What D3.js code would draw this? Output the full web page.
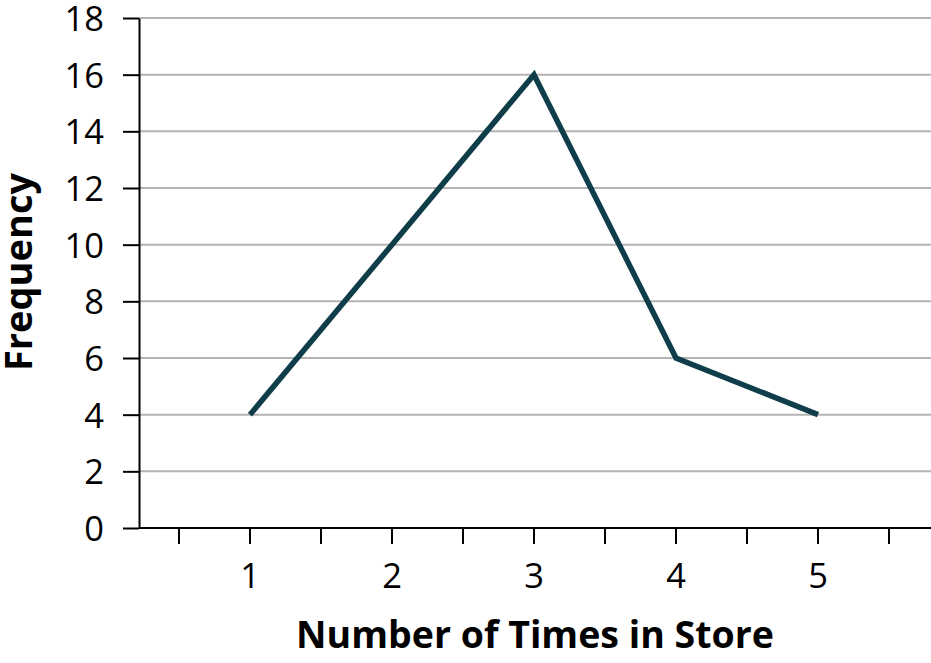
<!DOCTYPE html>
<html>
<head>
<meta charset="utf-8">
<script src="https://cdn.jsdelivr.net/npm/d3@7"></script>
<style>
  body { margin: 0; background: #fff; }
  svg text { font-family: "Open Sans", "Noto Sans", sans-serif; fill: #000; }
</style>
</head>
<body>
<div id="canvas"></div>
<script>
"use strict"

/* values */
let timesInStore = [1, 2, 3, 4, 5];
let frequency = [4, 10, 16, 6, 4];
let yTicks = [0, 2, 4, 6, 8, 10, 12, 14, 16, 18];
let xLabelTicks = [1, 2, 3, 4, 5];
let xMarkTicks = [0.5, 1, 1.5, 2, 2.5, 3, 3.5, 4, 4.5, 5, 5.5];

let drawing = d3.select("#canvas")
    .append("svg")
    .attr("width", 931)
    .attr("height", 663);

/* axis x sits at 139, plot runs to the right edge */
let x = d3.scaleLinear().domain([1, 5]).range([250, 818]);
let y = d3.scaleLinear().domain([0, 18]).range([528, 18]);

let left = 139, right = 931;

// grid lines
drawing.append("g")
    .selectAll("line")
    .data(yTicks.filter(d => d > 0))
    .join("line")
    .attr("x1", left)
    .attr("x2", right)
    .attr("y1", d => y(d))
    .attr("y2", d => y(d))
    .attr("stroke", "#b3b3b3")
    .attr("stroke-width", 2);

// y axis
let yAxis = drawing.append("g")
    .attr("transform", `translate(${left},0)`)
    .call(d3.axisLeft(y).tickValues(yTicks).tickSize(16).tickPadding(19).tickSizeOuter(0));
yAxis.select(".domain").attr("stroke", "#000").attr("stroke-width", 2);
yAxis.selectAll(".tick line").attr("stroke", "#000").attr("stroke-width", 2);
yAxis.selectAll(".tick text")
    .attr("font-size", 34.5)
    .attr("dy", "0.36em");

// x axis line + ticks
let xAxis = drawing.append("g")
    .attr("transform", `translate(0,${y(0)})`);
xAxis.append("line")
    .attr("x1", left)
    .attr("x2", right)
    .attr("stroke", "#000")
    .attr("stroke-width", 2);
xAxis.selectAll("line.tk")
    .data(xMarkTicks)
    .join("line")
    .attr("class", "tk")
    .attr("x1", d => x(d))
    .attr("x2", d => x(d))
    .attr("y1", 0)
    .attr("y2", 16)
    .attr("stroke", "#000")
    .attr("stroke-width", 2);
xAxis.selectAll("text")
    .data(xLabelTicks)
    .join("text")
    .attr("x", d => x(d))
    .attr("y", 60)
    .attr("text-anchor", "middle")
    .attr("font-size", 34.5)
    .text(d => d);

// the line itself
let line = d3.line()
    .x((d, i) => x(timesInStore[i]))
    .y(d => y(d));

drawing.append("path")
    .datum(frequency)
    .attr("d", line)
    .attr("fill", "none")
    .attr("stroke", "#0f3e4a")
    .attr("stroke-width", 5.5)
    .attr("stroke-linejoin", "miter");

// axis titles
drawing.append("text")
    .attr("x", 535)
    .attr("y", 648)
    .attr("text-anchor", "middle")
    .attr("font-size", 37.5)
    .attr("font-weight", "bold")
    .text("Number of Times in Store");

drawing.append("text")
    .attr("transform", "translate(32,272) rotate(-90)")
    .attr("text-anchor", "middle")
    .attr("font-size", 38)
    .attr("font-weight", "bold")
    .text("Frequency");
</script>
</body>
</html>
